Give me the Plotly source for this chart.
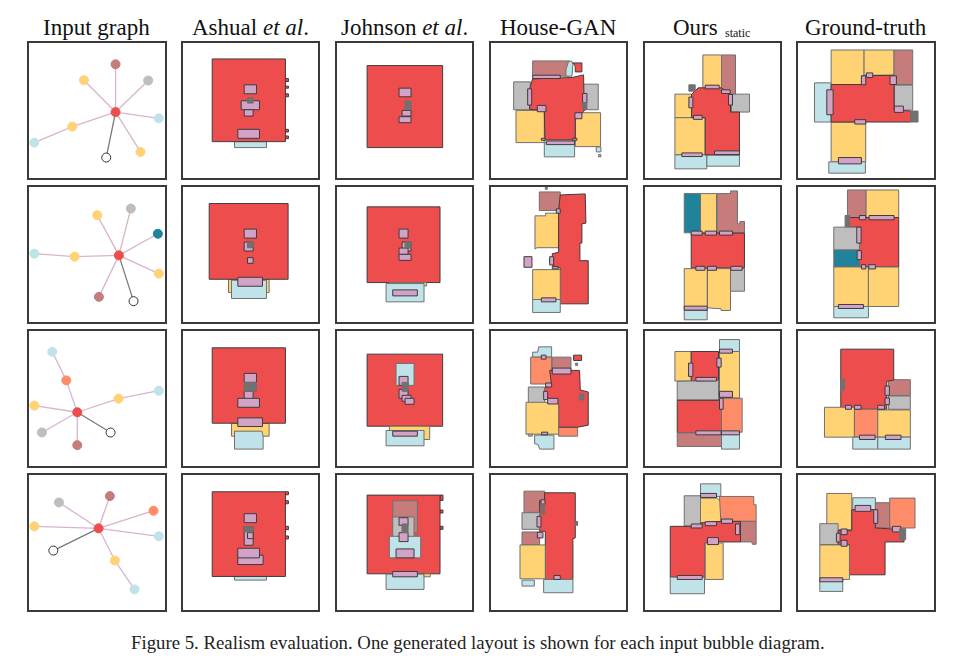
import plotly.graph_objects as go
from plotly.subplots import make_subplots

# room colours by type
colors = {'living': '#EE4D4D', 'kitchen': '#C67C7B', 'bed': '#FFD274', 'bath': '#BEBEBE',
          'balcony': '#BFE3E8', 'study': '#FF8C69', 'storage': '#1F849B',
          'front': '#727171', 'door': '#D3A2C7'}

headers = ['Input graph', 'Ashual <i>et al</i>.', 'Johnson <i>et al</i>.', 'House-GAN',
           None, 'Ground-truth']
caption = 'Figure 5. Realism evaluation. One generated layout is shown for each input bubble diagram.'

# origin of every column / row in the layout units used below
col_origin = [22, 485, 15, 477, 10, 471]
row_origin = [96, 17, 14, 16]
panel_size = 413
inset = 4

# bubble diagrams: first node is the hub, parent is an index into the lists
graph1_x = [286, 286, 191, 384, 416, 156, 42, 361, 258]
graph1_y = [308, 164, 212, 213, 327, 352, 400, 428, 445]
graph1_kind = ['living', 'kitchen', 'bed', 'bath', 'balcony', 'bed', 'balcony', 'bed', 'entry']
graph1_parent = [0, 0, 0, 0, 0, 0, 5, 0, 0]

graph2_x = [296, 231, 332, 413, 416, 236, 340, 163, 42]
graph2_y = [227, 106, 86, 162, 282, 352, 365, 231, 222]
graph2_kind = ['living', 'bed', 'bath', 'storage', 'bed', 'kitchen', 'entry', 'bed', 'balcony']
graph2_parent = [0, 0, 0, 0, 0, 0, 0, 0, 7]

graph3_x = [171, 138, 96, 42, 65, 171, 271, 295, 416]
graph3_y = [263, 167, 81, 243, 324, 362, 324, 222, 198]
graph3_kind = ['living', 'study', 'balcony', 'bed', 'bath', 'kitchen', 'entry', 'bed', 'balcony']
graph3_parent = [0, 0, 1, 0, 0, 0, 0, 0, 7]

graph4_x = [235, 116, 269, 400, 416, 42, 99, 284, 343]
graph4_y = [181, 103, 84, 128, 205, 175, 248, 278, 365]
graph4_kind = ['living', 'bath', 'kitchen', 'study', 'balcony', 'bed', 'entry', 'bed', 'balcony']
graph4_parent = [0, 0, 0, 0, 0, 0, 0, 0, 7]

# rooms: (type, xs, ys), two values mean a rectangle
ashual1 = [('balcony', [644, 740], [397, 415]), ('living', [797, 806], [207, 216]),
           ('living', [797, 806], [230, 236]), ('living', [797, 806], [253, 262]),
           ('living', [797, 806], [360, 368]), ('living', [797, 806], [380, 388]),
           ('living', [577, 797], [148, 397]), ('door', [673, 710], [226, 253]),
           ('door', [664, 719], [274, 301]), ('door', [673, 700], [301, 320]),
           ('door', [654, 719], [360, 387]), ('front', [683, 700], [265, 281])]
johnson1 = [('living', [110, 337], [168, 415]), ('door', [206, 242], [236, 262]),
            ('door', [215, 242], [303, 320]), ('door', [206, 242], [322, 340]),
            ('front', [224, 242], [275, 301])]
housegan1 = [('bath', [550, 600], [217, 301]), ('bath', [755, 804], [224, 301]),
             ('kitchen', [607, 718], [154, 200]),
             ('balcony', [715, 725, 728, 725, 707, 707], [155, 155, 165, 200, 200, 180]),
             ('living', [728, 755, 755, 735, 735], [160, 160, 187, 187, 170]),
             ('bed', [557, 642], [303, 400]), ('bed', [735, 811], [310, 412]),
             ('balcony', [642, 733], [400, 443]),
             ('living', [598, 607, 725, 760, 762, 735, 735, 644, 642, 598],
              [238, 208, 204, 196, 305, 330, 392, 392, 303, 300]),
             ('door', [607, 690], [197, 207]), ('door', [592, 604], [238, 287]),
             ('door', [621, 647], [288, 307]), ('door', [757, 770], [252, 280]),
             ('door', [734, 755], [310, 328]), ('door', [648, 733], [395, 406]),
             ('door', [633, 645], [387, 393]), ('door', [727, 740], [387, 393]),
             ('front', [757, 770], [280, 300]), ('balcony', [798, 812], [413, 428]),
             ('bath', [805, 812], [436, 443])]
ours1 = [('bed', [189, 245], [136, 240]), ('kitchen', [245, 287], [136, 255]),
         ('bath', [275, 329], [254, 308]), ('bed', [105, 155], [254, 325]),
         ('bed', [105, 196], [325, 437]), ('balcony', [105, 201], [437, 479]),
         ('balcony', [201, 299], [437, 471]),
         ('living', [155, 175, 245, 272, 272, 299, 299, 196, 196, 155],
          [255, 235, 235, 255, 308, 308, 437, 437, 325, 325]),
         ('door', [196, 238], [227, 238]), ('door', [245, 271], [241, 252]),
         ('door', [266, 278], [255, 287]), ('door', [147, 159], [263, 295]),
         ('door', [161, 187], [318, 330]), ('door', [126, 187], [431, 442]),
         ('door', [224, 299], [425, 436]), ('front', [147, 166], [226, 245])]
truth1 = [('bed', [573, 672], [121, 225]), ('bed', [672, 762], [121, 197]),
          ('kitchen', [762, 818], [121, 225]), ('bath', [763, 818], [227, 302]),
          ('balcony', [523, 573], [220, 338]), ('bed', [573, 677], [338, 458]),
          ('balcony', [566, 676], [458, 492]),
          ('living', [573, 665, 665, 762, 762, 812, 812, 573],
           [225, 225, 199, 197, 302, 305, 338, 338]),
          ('door', [664, 677], [199, 226]), ('door', [679, 698], [190, 204]),
          ('door', [750, 769], [199, 225]), ('door', [763, 790], [290, 309]),
          ('door', [560, 579], [241, 316]), ('door', [644, 677], [331, 344]),
          ('door', [595, 664], [445, 464]), ('front', [812, 834], [305, 338])]

ashual2 = [('bed', [626, 748], [299, 339]), ('balcony', [635, 740], [302, 357]),
           ('living', [568, 805], [71, 299]), ('door', [654, 728], [293, 320]),
           ('door', [673, 710], [148, 175]), ('door', [673, 700], [187, 214]),
           ('door', [683, 700], [234, 251]), ('front', [683, 700], [187, 204])]
johnson2 = [('living', [110, 329], [81, 309]), ('bed', [177, 289], [309, 319]),
            ('balcony', [167, 281], [312, 367]), ('door', [187, 261], [331, 349]),
            ('door', [206, 233], [148, 175]), ('door', [215, 242], [187, 214]),
            ('door', [206, 233], [205, 224]), ('door', [206, 242], [224, 242]),
            ('front', [224, 242], [187, 205])]
housegan2 = [('kitchen', [627, 690], [36, 92]), ('kitchen', [645, 651], [22, 28]),
             ('bed', [614, 646, 646, 685, 685, 620, 614], [108, 108, 100, 100, 204, 204, 208]),
             ('living', [690, 765, 767, 755, 755, 749, 749, 774, 774, 690, 690, 666, 666, 685, 685],
              [45, 42, 130, 132, 190, 190, 243, 243, 373, 373, 265, 258, 222, 218, 92]),
             ('bed', [607, 690], [270, 360]), ('balcony', [607, 690], [360, 399]),
             ('door', [581, 605], [231, 263]), ('door', [658, 670], [231, 256]),
             ('door', [678, 690], [87, 100]), ('door', [633, 677], [355, 367]),
             ('door', [666, 684], [261, 268])]
ours2 = [('storage', [133, 182], [41, 159]), ('bed', [182, 230], [41, 159]),
         ('kitchen', [232, 272, 272, 293, 293, 300, 300, 314, 314, 232],
          [41, 41, 33, 33, 132, 132, 125, 125, 159, 159]),
         ('living', [154, 314], [160, 265]), ('bed', [133, 202], [267, 393]),
         ('bed', [203, 272, 272, 244, 244, 203], [267, 267, 393, 393, 388, 385]),
         ('bath', [272, 314], [267, 335]), ('balcony', [133, 202], [393, 421]),
         ('door', [154, 187], [154, 166]), ('door', [196, 230], [154, 166]),
         ('door', [239, 278], [154, 166]), ('door', [168, 195], [260, 272]),
         ('door', [203, 230], [260, 272]), ('door', [273, 307], [260, 272]),
         ('door', [133, 202], [380, 392])]
truth2 = [('kitchen', [622, 678], [30, 113]), ('bed', [678, 776], [30, 113]),
          ('living', [628, 776, 776, 658, 658, 628], [113, 113, 262, 262, 142, 142]),
          ('front', [615, 628], [107, 142]), ('bath', [581, 658], [142, 211]),
          ('storage', [581, 658], [211, 262]), ('bed', [581, 685], [262, 381]),
          ('bed', [685, 776], [262, 381]), ('balcony', [581, 685], [381, 415]),
          ('door', [658, 677], [107, 120]), ('door', [687, 762], [107, 120]),
          ('door', [650, 663], [142, 190]), ('door', [651, 664], [213, 240]),
          ('door', [664, 677], [255, 268]), ('door', [686, 706], [255, 268]),
          ('door', [595, 670], [375, 387])]

ashual3 = [('bed', [635, 748], [296, 335]),
           ('balcony', [644, 726, 730, 730, 644], [320, 320, 335, 374, 374]),
           ('living', [577, 797], [69, 296]), ('door', [654, 728], [280, 306]),
           ('door', [673, 710], [146, 173]), ('door', [673, 700], [200, 230]),
           ('door', [654, 719], [221, 248]), ('front', [673, 710], [173, 200])]
johnson3 = [('living', [110, 337], [88, 305]), ('balcony', [197, 251], [116, 182]),
            ('bed', [177, 298], [305, 345]), ('balcony', [167, 281], [318, 364]),
            ('door', [187, 261], [320, 335]), ('door', [206, 233], [155, 182]),
            ('door', [206, 233], [194, 221]), ('door', [215, 242], [212, 230]),
            ('door', [224, 251], [221, 239]), ('front', [215, 233], [173, 200])]
housegan3 = [('balcony', [607, 622, 625, 664, 664, 607], [82, 82, 66, 66, 97, 97]),
             ('study', [601, 664], [97, 178]), ('kitchen', [666, 722], [97, 148]),
             ('living', [730, 754], [91, 107]), ('kitchen', [736, 742], [115, 122]),
             ('study', [685, 742], [308, 335]),
             ('living', [658, 748, 750, 774, 774, 742, 685, 685, 655, 640, 664],
              [137, 137, 196, 202, 302, 308, 308, 237, 225, 190, 182]),
             ('bath', [594, 643], [187, 238]), ('bed', [587, 685], [233, 329]),
             ('balcony', [613, 671, 671, 628, 623, 613], [332, 332, 374, 374, 360, 358]),
             ('bath', [594, 606], [329, 335]), ('door', [666, 722], [130, 148]),
             ('door', [633, 647], [91, 103]), ('door', [646, 664], [175, 187]),
             ('door', [640, 652], [200, 225]), ('door', [652, 683], [221, 238]),
             ('door', [634, 652], [323, 331]), ('front', [748, 761], [208, 226])]
ours3 = [('balcony', [239, 299], [44, 80]), ('bed', [239, 299], [80, 220]),
         ('bed', [105, 154], [80, 169]), ('living', [154, 236], [80, 169]),
         ('bath', [112, 236, 236, 112], [170, 167, 226, 226]),
         ('living', [112, 245], [227, 325]), ('study', [245, 307], [221, 323]),
         ('kitchen', [112, 245], [325, 366]), ('balcony', [245, 299], [323, 374]),
         ('door', [239, 278], [73, 85]), ('door', [231, 244], [100, 127]),
         ('door', [146, 159], [115, 155]), ('door', [168, 230], [158, 169]),
         ('door', [239, 278], [200, 218]), ('door', [239, 250], [221, 254]),
         ('door', [168, 244], [319, 331]), ('door', [245, 299], [319, 331])]
truth3 = [('kitchen', [745, 811], [165, 213]), ('bath', [745, 811], [214, 254]),
          ('living', [602, 761, 761, 740, 740, 602], [73, 73, 166, 170, 254, 254]),
          ('bed', [553, 643], [248, 338]), ('study', [643, 713], [254, 338]),
          ('bed', [713, 811], [256, 338]), ('balcony', [638, 713], [338, 374]),
          ('balcony', [713, 811], [338, 374]), ('door', [735, 748], [184, 212]),
          ('door', [735, 748], [220, 240]), ('door', [616, 634], [242, 254]),
          ('door', [643, 663], [242, 254]), ('door', [713, 733], [242, 254]),
          ('door', [658, 705], [332, 345]), ('door', [736, 783], [332, 345]),
          ('front', [602, 613], [164, 196])]

ashual4 = [('balcony', [644, 740], [326, 337]), ('living', [797, 806], [71, 80]),
           ('living', [797, 806], [98, 107]), ('living', [797, 806], [175, 185]),
           ('living', [797, 806], [204, 213]), ('living', [577, 797], [71, 326]),
           ('door', [673, 710], [137, 164]), ('door', [673, 700], [176, 232]),
           ('door', [654, 730], [262, 290]), ('door', [654, 719], [241, 270]),
           ('door', [683, 700], [194, 212]), ('front', [673, 700], [176, 192])]
johnson4 = [('living', [329, 338], [81, 97]), ('living', [329, 338], [126, 135]),
            ('living', [329, 338], [175, 184]), ('living', [110, 329], [81, 318]),
            ('kitchen', [187, 261], [98, 194]), ('bath', [187, 251], [147, 221]),
            ('balcony', [177, 271], [205, 270]), ('balcony', [167, 281], [319, 365]),
            ('bed', [281, 300], [318, 327]), ('door', [187, 261], [311, 327]),
            ('door', [197, 251], [243, 270]), ('door', [206, 233], [149, 172]),
            ('door', [206, 233], [194, 221]), ('front', [215, 233], [168, 194])]
housegan4 = [('kitchen', [581, 643], [69, 133]),
             ('living', [643, 735, 735, 728, 728, 645, 645, 628, 628, 643],
              [74, 74, 210, 212, 335, 335, 190, 190, 98, 98]),
             ('bath', [575, 628], [134, 184]), ('kitchen', [575, 628], [192, 231]),
             ('bed', [569, 645], [231, 333]), ('balcony', [640, 728], [335, 375]),
             ('balcony', [575, 612], [337, 355]), ('door', [620, 632], [145, 177]),
             ('door', [621, 638], [193, 210]), ('door', [632, 644], [95, 110]),
             ('door', [671, 690], [323, 335]), ('front', [634, 643], [107, 138]),
             ('front', [735, 742], [160, 172])]
ours4 = [('balcony', [182, 243], [47, 85]), ('bath', [133, 182], [83, 174]),
         ('bed', [182, 232, 243, 243, 182], [90, 90, 100, 160, 165]),
         ('study', [239, 342, 342, 349, 349, 243], [85, 85, 110, 110, 160, 160]),
         ('kitchen', [302, 349, 349, 338, 336, 302], [160, 160, 229, 229, 222, 222]),
         ('living', [91, 182, 182, 243, 302, 302, 236, 196, 196, 91],
          [175, 175, 165, 160, 160, 222, 222, 225, 328, 328]),
         ('bed', [196, 250], [225, 335]), ('balcony', [91, 194], [328, 378]),
         ('door', [182, 230], [76, 88]), ('door', [154, 187], [168, 180]),
         ('door', [196, 230], [161, 173]), ('door', [245, 278], [153, 166]),
         ('door', [287, 300], [168, 200]), ('door', [203, 236], [209, 230]),
         ('door', [112, 187], [323, 335])]
truth4 = [('bed', [560, 635], [76, 185]), ('balcony', [638, 706], [89, 125]),
          ('kitchen', [706, 749], [104, 180]), ('study', [749, 825], [90, 180]),
          ('bath', [539, 594], [167, 230]),
          ('living', [594, 635, 635, 706, 706, 792, 792, 735, 735, 628, 628, 594],
           [188, 188, 125, 125, 180, 185, 222, 222, 321, 321, 230, 230]),
          ('bed', [539, 628], [231, 335]), ('balcony', [539, 608], [335, 371]),
          ('door', [645, 692], [112, 130]), ('door', [701, 713], [125, 166]),
          ('door', [757, 782], [175, 192]), ('door', [603, 621], [183, 200]),
          ('door', [589, 600], [196, 222]), ('door', [603, 621], [217, 235]),
          ('door', [539, 608], [330, 342]), ('front', [779, 797], [182, 215])]

graphs = [(graph1_x, graph1_y, graph1_kind, graph1_parent),
          (graph2_x, graph2_y, graph2_kind, graph2_parent),
          (graph3_x, graph3_y, graph3_kind, graph3_parent),
          (graph4_x, graph4_y, graph4_kind, graph4_parent)]
layouts = [[ashual1, johnson1, housegan1, ours1, truth1],
           [ashual2, johnson2, housegan2, ours2, truth2],
           [ashual3, johnson3, housegan3, ours3, truth3],
           [ashual4, johnson4, housegan4, ours4, truth4]]


def add_graph(fig, graph, row, col):
    xs, ys, kinds, parents = graph
    for i, p in enumerate(parents):
        if i == p:
            continue
        edge = '#7a7a7a' if kinds[i] == 'entry' else '#D9B3CF'
        fig.add_trace(go.Scatter(x=[xs[p], xs[i]], y=[ys[p], ys[i]], mode='lines',
                                 line=dict(color=edge, width=1.3)), row=row, col=col)
    node_colors = ['white' if k == 'entry' else colors[k] for k in kinds]
    node_lines = ['#333333' if k == 'entry' else node_colors[i] for i, k in enumerate(kinds)]
    fig.add_trace(go.Scatter(x=xs, y=ys, mode='markers',
                             marker=dict(size=9, color=node_colors,
                                         line=dict(color=node_lines, width=1))), row=row, col=col)


def add_rooms(fig, rooms, row, col):
    for kind, xs, ys in rooms:
        if len(xs) == 2:
            xs, ys = [xs[0], xs[1], xs[1], xs[0]], [ys[0], ys[0], ys[1], ys[1]]
        edge = '#3d3d3d' if kind in ('living', 'door') else '#707070'
        fig.add_trace(go.Scatter(x=xs + xs[:1], y=ys + ys[:1], mode='lines', fill='toself',
                                 fillcolor=colors[kind], line=dict(color=edge, width=1)),
                      row=row, col=col)


fig = make_subplots(rows=4, cols=6, horizontal_spacing=0.02033, vertical_spacing=0.01554)

for r in range(4):
    add_graph(fig, graphs[r], r + 1, 1)
    for c in range(5):
        add_rooms(fig, layouts[r][c], r + 1, c + 2)

for r in range(4):
    for c in range(6):
        fig.update_xaxes(range=[col_origin[c] + inset, col_origin[c] + panel_size + 2 - inset],
                         row=r + 1, col=c + 1)
        fig.update_yaxes(range=[row_origin[r] + panel_size + 2 - inset, row_origin[r] + inset],
                         row=r + 1, col=c + 1)

fig.update_xaxes(showticklabels=False, ticks='', showgrid=False, zeroline=False, showline=True,
                 mirror=True, linecolor='#3a3a3a', linewidth=1.5, fixedrange=True)
fig.update_yaxes(showticklabels=False, ticks='', showgrid=False, zeroline=False, showline=True,
                 mirror=True, linecolor='#3a3a3a', linewidth=1.5, fixedrange=True)
fig.update_traces(showlegend=False, hoverinfo='skip')

head_font = dict(family='Liberation Serif', size=23, color='#111111')
for c, text in enumerate(headers):
    if text is None:
        continue
    name = 'x' if c == 0 else f'x{c + 1}'
    yname = 'y' if c == 0 else f'y{c + 1}'
    fig.add_annotation(text=text, xref=f'{name} domain', yref=f'{yname} domain', x=0.5, y=1.0,
                       yanchor='bottom', yshift=1, showarrow=False, font=head_font)

fig.add_annotation(text='Ours', xref='x5 domain', yref='y5 domain', x=0.556, y=1.0, xanchor='right',
                   yanchor='bottom', yshift=1, showarrow=False, font=head_font)
fig.add_annotation(text='static', xref='x5 domain', yref='y5 domain', x=0.578, y=1.0, xanchor='left',
                   yanchor='bottom', yshift=1, showarrow=False,
                   font=dict(family='Liberation Serif', size=12, color='#111111'))

fig.add_annotation(text=caption, xref='paper', yref='paper', x=0.4956, y=-0.0572, yanchor='middle',
                   showarrow=False, font=dict(family='Liberation Serif', size=18.8, color='#222222'))

# the page keeps its 8px body margin, so the figure is 8px smaller than the window
fig.update_layout(width=950, height=658, margin=dict(l=21, r=24, t=35.2, b=56.4),
                  paper_bgcolor='white', plot_bgcolor='white', showlegend=False)

fig.write_html("out.html")
